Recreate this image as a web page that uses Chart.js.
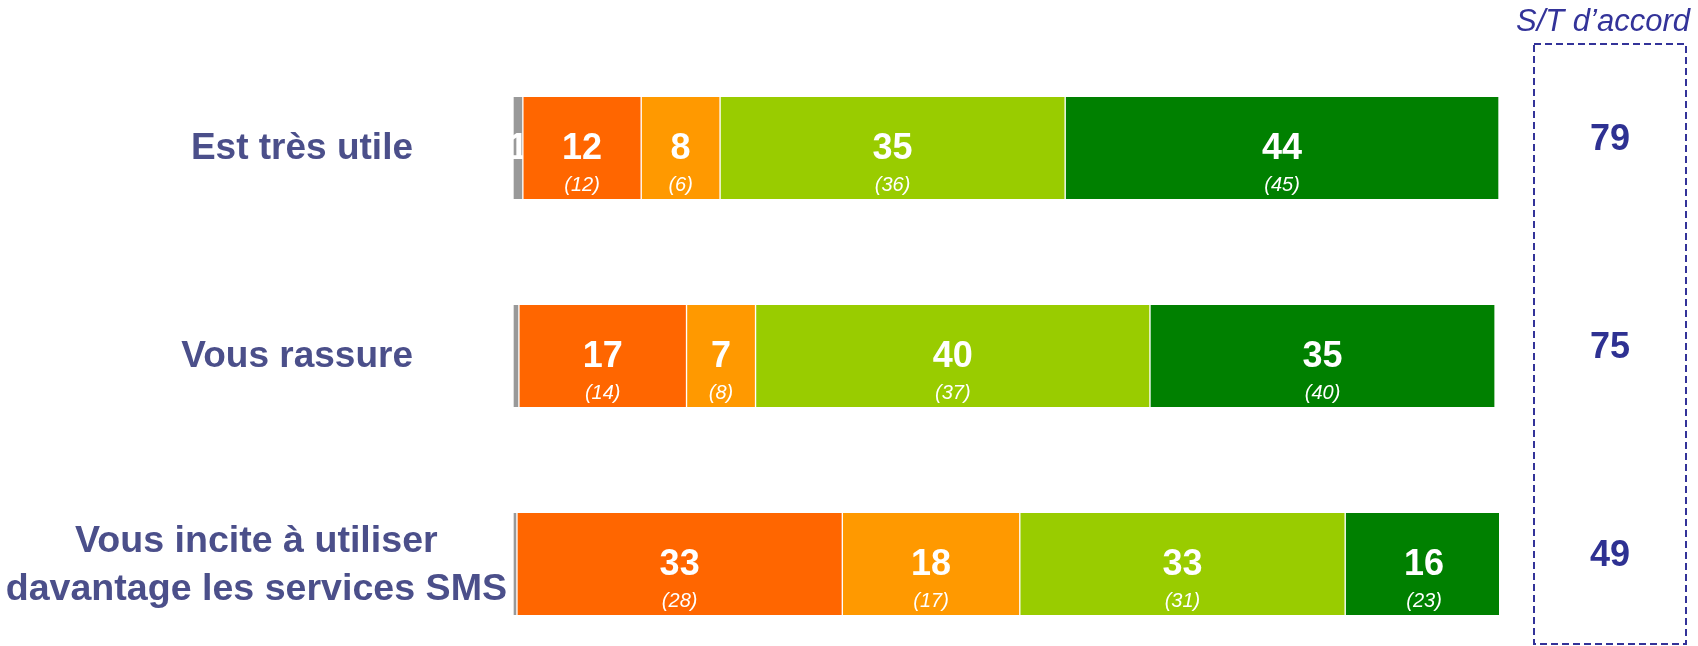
<!DOCTYPE html>
<html>
<head>
<meta charset="utf-8">
<script src="https://cdn.jsdelivr.net/npm/chart.js@4.4.1/dist/chart.umd.min.js"></script>
<style>
  body { margin: 0; background: #fff; }
  #wrap { width: 1698px; height: 646px; position: relative; }
</style>
</head>
<body>
<div id="wrap"><canvas id="myChart"></canvas></div>
<script>
// categories (rows)
var categories = [
  ['Est très utile'],
  ['Vous rassure'],
  ['Vous incite à utiliser', 'davantage les services SMS']
];

// current wave
var nsp        = [1, 0.6, 0.4];
var pasDuTout  = [12, 17, 33];
var plutotPas  = [8, 7, 18];
var plutot     = [35, 40, 33];
var toutAFait  = [44, 35, 16];

// previous wave (in brackets)
var prevPasDuTout = [12, 14, 28];
var prevPlutotPas = [6, 8, 17];
var prevPlutot    = [36, 37, 31];
var prevToutAFait = [45, 40, 23];

// S/T d'accord
var stAccord = [79, 75, 49];

var FONT = '"Liberation Sans", Arial, Helvetica, sans-serif';

var prevByDataset = [null, prevPasDuTout, prevPlutotPas, prevPlutot, prevToutAFait];

var labelsPlugin = {
  id: 'labelsPlugin',
  afterDatasetsDraw: function (chart) {
    var ctx = chart.ctx;
    var area = chart.chartArea;
    var yScale = chart.scales.y;

    // values in the bars
    chart.data.datasets.forEach(function (ds, di) {
      var meta = chart.getDatasetMeta(di);
      meta.data.forEach(function (bar, i) {
        var v = ds.data[i];
        if (v < 1) return;
        var left = Math.min(bar.x, bar.base);
        var right = Math.max(bar.x, bar.base);
        var cx = (left + right) / 2;
        ctx.save();
        ctx.beginPath();
        ctx.rect(left, bar.y - bar.height / 2, right - left, bar.height);
        ctx.clip();
        ctx.fillStyle = '#ffffff';
        ctx.textAlign = 'center';
        ctx.textBaseline = 'middle';
        ctx.font = 'bold 36px ' + FONT;
        ctx.fillText(String(Math.round(v)), cx, bar.y + 1);
        var prev = prevByDataset[di];
        if (prev) {
          ctx.font = 'italic 20px ' + FONT;
          ctx.fillText('(' + prev[i] + ')', cx, bar.y + 37);
        }
        ctx.restore();
      });
    });

    // row labels on the left
    ctx.save();
    ctx.fillStyle = '#4B4F8A';
    ctx.textBaseline = 'middle';
    categories.forEach(function (lines, i) {
      var y = yScale.getPixelForValue(i);
      if (lines.length === 1) {
        ctx.font = 'bold 37px ' + FONT;
        ctx.textAlign = 'right';
        ctx.fillText(lines[0], area.left - 100, y + 1);
      } else {
        ctx.font = 'bold 37.6px ' + FONT;
        var widest = 0;
        lines.forEach(function (l) { widest = Math.max(widest, ctx.measureText(l).width); });
        var cx = area.left - 6 - widest / 2;
        ctx.textAlign = 'center';
        lines.forEach(function (l, j) {
          ctx.fillText(l, cx, y + 2 + (j - (lines.length - 1) / 2) * 48);
        });
      }
    });
    ctx.restore();

    // S/T d'accord column
    ctx.save();
    var bx = area.right + 35, bw = 152;
    ctx.strokeStyle = '#333399';
    ctx.lineWidth = 2;
    ctx.setLineDash([7, 4]);
    ctx.strokeRect(bx, area.top - 104, bw, 600);
    ctx.setLineDash([]);
    ctx.fillStyle = '#333399';
    ctx.textAlign = 'center';
    ctx.textBaseline = 'middle';
    ctx.font = 'italic 31px ' + FONT;
    ctx.fillText('S/T d\u2019accord', bx + bw / 2 - 7, 22);
    ctx.fillStyle = '#2E3192';
    ctx.font = 'bold 36px ' + FONT;
    stAccord.forEach(function (v, i) {
      ctx.fillText(String(v), bx + bw / 2, yScale.getPixelForValue(i) - 8);
    });
    ctx.restore();
  }
};

function makeDataset(label, data, color) {
  return {
    label: label,
    data: data,
    backgroundColor: color,
    borderColor: '#ffffff',
    borderWidth: { left: 1, right: 1, top: 0, bottom: 0 },
    borderSkipped: false,
    barThickness: 102,
    clip: { left: 0, right: 0, top: false, bottom: false }
  };
}

new Chart(document.getElementById('myChart'), {
  type: 'bar',
  data: {
    labels: categories,
    datasets: [
      makeDataset('NSP', nsp, '#999999'),
      makeDataset('Pas du tout d\u2019accord', pasDuTout, '#FF6600'),
      makeDataset('Plutôt pas d\u2019accord', plutotPas, '#FF9900'),
      makeDataset('Plutôt d\u2019accord', plutot, '#99CC00'),
      makeDataset('Tout à fait d\u2019accord', toutAFait, '#008000')
    ]
  },
  options: {
    indexAxis: 'y',
    responsive: true,
    maintainAspectRatio: false,
    animation: false,
    layout: { padding: { left: 513, right: 199, top: 148, bottom: 82 } },
    scales: {
      x: { stacked: true, min: 0, max: 100, display: false },
      y: { stacked: true, offset: false, display: false }
    },
    plugins: {
      legend: { display: false },
      title: { display: false },
      tooltip: { enabled: false }
    }
  },
  plugins: [labelsPlugin]
});
</script>
</body>
</html>
